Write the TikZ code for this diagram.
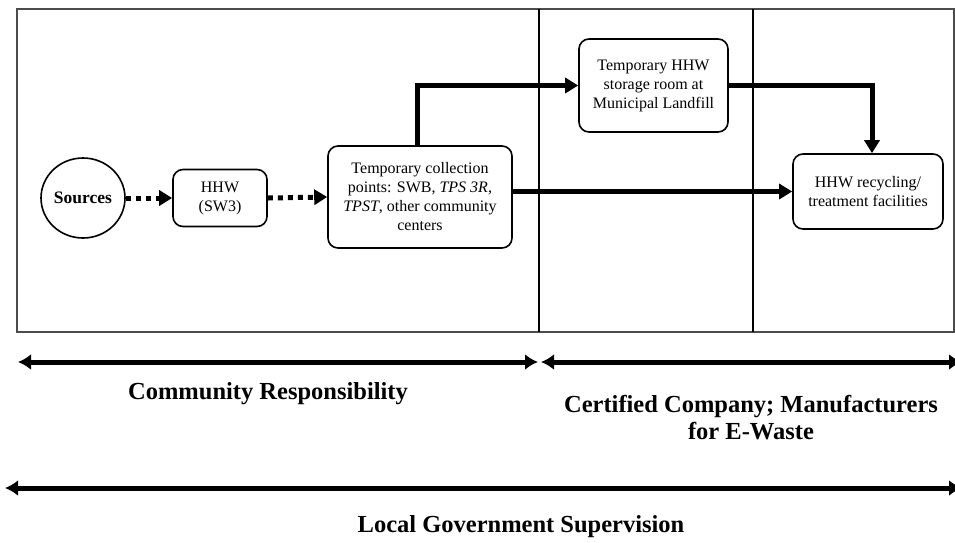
\documentclass[tikz,border=0pt]{standalone}
\usepackage{fontspec}
\setmainfont{Liberation Serif}
\usetikzlibrary{arrows.meta,shapes.geometric}
\begin{document}
\begin{tikzpicture}[x=1pt,y=-1pt,
  box/.style={draw, line width=1.6pt, rounded corners=10pt, align=center,
    inner sep=0pt, font=\fontsize{16}{19}\selectfont},
  flow/.style={line width=5pt, -{Triangle[length=13pt,width=15pt]}},
  dotflow/.style={flow, dash pattern=on 5pt off 5pt},
  span/.style={line width=5pt, {Latex[length=13pt,width=16pt]}-{Latex[length=13pt,width=16pt]}},
  spanlabel/.style={font=\fontsize{24.5}{27}\selectfont\bfseries, align=center}]
\useasboundingbox (0,0) rectangle (955,542);

% outer frame and column separators
\draw[line width=2pt, black!70] (17,9) rectangle (954,332);
\draw[line width=2.5pt] (539,9) -- (539,332);
\draw[line width=2.5pt] (753,9) -- (753,332);

% flow nodes
\node[ellipse, draw, line width=1.6pt, minimum width=84pt, minimum height=80pt,
  inner sep=0pt, font=\fontsize{17.5}{19}\selectfont\bfseries] (src) at (83,198) {Sources};
\node[box, minimum width=94pt, minimum height=57pt] (hhw) at (220,198) {HHW\\(SW3)};
\node[box, minimum width=184pt, minimum height=102pt] (coll) at (420,197)
  {Temporary collection\\points: SWB, \textit{TPS 3R},\\\textit{TPST}, other community\\centers};
\node[box, minimum width=149pt, minimum height=93pt] (stor) at (653.5,85.5)
  {Temporary HHW\\storage room at\\Municipal Landfill};
\node[box, minimum width=150pt, minimum height=75pt] (rec) at (868,191.5)
  {HHW recycling/\\treatment facilities};

% flow connectors
\draw[dotflow] (src.east) -- (hhw.west);
\draw[dotflow] (hhw.east) -- (coll.west);
\draw[flow] ([xshift=-3pt]coll.north) |- (stor.west);
\draw[flow] (stor.east) -| ([xshift=4pt]rec.north);
\draw[flow] (coll.east |- rec.west) -- (rec.west);

% responsibility spans
\coordinate (c1) at (18,362);
\coordinate (c2) at (538,362);
\coordinate (m1) at (541,362);
\coordinate (m2) at (962,362);
\coordinate (g1) at (5,488);
\coordinate (g2) at (962,488);
\draw[span] (c1) -- (c2);
\draw[span] (m1) -- (m2);
\draw[span] (g1) -- (g2);

\node[spanlabel] (lcom) at (268,394) {Community Responsibility};
\node[spanlabel] (lman) at (751,418) {Certified Company; Manufacturers\\for E-Waste};
\node[spanlabel] (lgov) at (521,527) {Local Government Supervision};
\end{tikzpicture}
\end{document}
